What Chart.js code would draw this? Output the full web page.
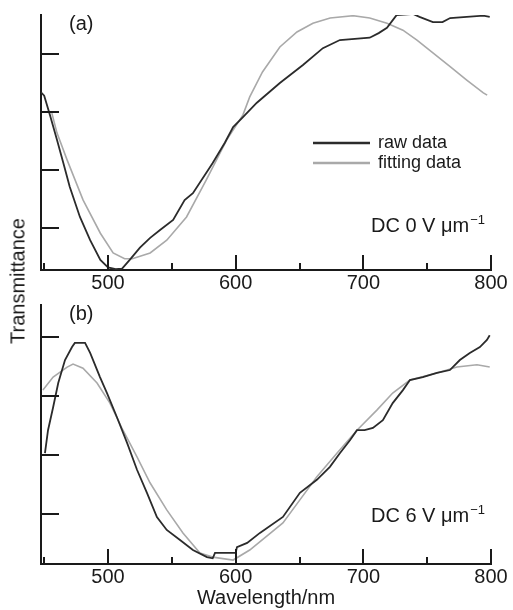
<!DOCTYPE html>
<html>
<head>
<meta charset="utf-8">
<script src="https://cdn.jsdelivr.net/npm/chart.js@4.4.0/dist/chart.umd.min.js"></script>
<style>
  body { margin: 0; background: #fff; }
  #wrap { position: relative; width: 513px; height: 610px; }
  #topChart { position: absolute; left: 0; top: 0; width: 513px; height: 296px; }
  #bottomChart { position: absolute; left: 0; top: 296px; width: 513px; height: 314px; }
  #ylab { position: absolute; left: 18px; top: 281px; transform: translate(-50%, -50%) rotate(-90deg);
          font: 20px "Liberation Sans", Arial, sans-serif; color: #1a1a1a; white-space: nowrap; }
</style>
</head>
<body>
<div id="wrap">
  <canvas id="topChart" width="513" height="296"></canvas>
  <canvas id="bottomChart" width="513" height="314"></canvas>
  <div id="ylab">Transmittance</div>
</div>
<script>
//DATA
// panel (a): DC 0 V/um
const rawAWave = [447.5, 450, 454.5, 460, 465, 470, 478, 486, 494, 500, 506, 511, 517, 525, 533, 541, 551, 560, 566.5,
    582, 591.5, 598, 605.7, 616.6, 634.6, 652.7, 668.3, 681.6, 705, 712, 718.5, 726, 739, 744, 754.5, 762, 768, 781, 794, 799];
const rawAVal = [3.34, 3.28, 2.95, 2.52, 2.12, 1.71, 1.19, 0.79, 0.45, 0.32, 0.29, 0.30, 0.45, 0.66, 0.83, 0.97, 1.14, 1.48, 1.60,
    2.12, 2.47, 2.74, 2.91, 3.16, 3.50, 3.81, 4.10, 4.24, 4.28, 4.36, 4.45, 4.67, 4.69, 4.64, 4.55, 4.55, 4.62, 4.64, 4.66, 4.64];
const fitAWave = [456, 460, 468, 480.5, 494, 504, 513, 519, 533, 546, 561.5, 577, 593, 605.7, 611, 621, 634.6, 648, 660.5,
    674, 692, 705, 718.5, 731, 742, 754.5, 768, 781, 794, 797];
const fitAVal = [2.98, 2.64, 2.17, 1.48, 0.91, 0.57, 0.47, 0.47, 0.57, 0.79, 1.19, 1.83, 2.52, 2.95, 3.26, 3.69, 4.12, 4.38, 4.53,
    4.62, 4.66, 4.62, 4.53, 4.41, 4.24, 4.02, 3.78, 3.55, 3.33, 3.29];

// panel (b): DC 6 V/um
const rawBWave = [450.6, 453, 457, 461, 466.3, 471.8, 474, 482, 486, 493.7, 499.2, 507, 515, 522.7, 530.5, 538.3, 546, 556.4,
    566.5, 577.5, 582, 583.8, 600, 601, 609, 619, 637, 650.3, 663.6, 673.8, 681.6, 689.5, 695, 701, 707.5, 715.3, 723, 731,
    736.5, 746.6, 757.6, 767.8, 775.6, 783.4, 791.3, 796.8, 799];
const rawBVal = [2.03, 2.42, 2.81, 3.22, 3.61, 3.83, 3.90, 3.90, 3.73, 3.32, 3.05, 2.64, 2.20, 1.75, 1.36, 0.95, 0.73, 0.56,
    0.39, 0.27, 0.25, 0.34, 0.34, 0.44, 0.51, 0.68, 0.95, 1.36, 1.58, 1.80, 2.03, 2.25, 2.42, 2.42, 2.46, 2.59, 2.88, 3.10,
    3.27, 3.32, 3.39, 3.44, 3.61, 3.73, 3.83, 3.95, 4.03];
const fitBWave = [449, 457, 468, 472.6, 480.4, 491.4, 501.5, 511.7, 522.7, 532.9, 546, 558.7, 572, 582, 598, 611, 637, 650.3,
    663.6, 679.3, 695, 710.6, 723, 736.5, 757.6, 773.3, 789, 799];
const fitBVal = [3.10, 3.32, 3.49, 3.54, 3.47, 3.22, 2.88, 2.42, 1.97, 1.53, 1.07, 0.68, 0.34, 0.27, 0.22, 0.39, 0.85, 1.24,
    1.63, 2.03, 2.42, 2.76, 3.05, 3.27, 3.39, 3.49, 3.53, 3.49];

const xTickLabels = [500, 600, 700, 800];
const xMinorTicks = [450, 550, 650, 750];
const yTicks = [1, 2, 3, 4];

//STYLE
const INK = '#1a1a1a';
const RAW = '#2b2b2b';
const FIT = '#a9a9a9';
const FONT = '"Liberation Sans", Arial, sans-serif';

const toPoints = (xs, ys) => xs.map((x, i) => ({x: x, y: ys[i]}));

// ticks drawn inward + panel texts + legend
const decor = {
    id: 'decor',
    afterDraw(chart, args, opts) {
        const {ctx, chartArea: a, scales: {x, y}} = chart;
        ctx.save();
        ctx.strokeStyle = INK;
        ctx.lineWidth = 2;
        ctx.beginPath();
        yTicks.forEach(v => {
            const py = Math.round(y.getPixelForValue(v));
            ctx.moveTo(a.left, py);
            ctx.lineTo(a.left + 18, py);
        });
        xTickLabels.forEach(v => {
            const px = Math.round(x.getPixelForValue(v));
            ctx.moveTo(px, a.bottom);
            ctx.lineTo(px, a.bottom - 15);
        });
        xMinorTicks.forEach(v => {
            const px = Math.round(x.getPixelForValue(v));
            ctx.moveTo(px, a.bottom);
            ctx.lineTo(px, a.bottom - 7);
        });
        ctx.stroke();

        ctx.fillStyle = INK;
        ctx.textBaseline = 'middle';
        ctx.font = '20px ' + FONT;
        ctx.textAlign = 'left';
        ctx.fillText(opts.panel, a.left + 28, a.top + 9);

        // "DC n V um^-1", right aligned
        ctx.font = '13px ' + FONT;
        const supW = ctx.measureText('\u22121').width;
        ctx.textAlign = 'right';
        ctx.fillText('\u22121', a.right - 6, opts.dcY - 6);
        ctx.font = '20px ' + FONT;
        ctx.fillText(opts.dc, a.right - 7 - supW, opts.dcY);

        if (opts.legend) {
            ctx.lineWidth = 2.5;
            ctx.strokeStyle = RAW;
            ctx.beginPath();
            ctx.moveTo(313, 143); ctx.lineTo(370, 143);
            ctx.stroke();
            ctx.strokeStyle = FIT;
            ctx.beginPath();
            ctx.moveTo(313, 163); ctx.lineTo(370, 163);
            ctx.stroke();
            ctx.font = '18px ' + FONT;
            ctx.textAlign = 'left';
            ctx.fillText('raw data', 378, 143);
            ctx.fillText('fitting data', 378, 163);
        }
        ctx.restore();
    }
};

function makeConfig(raw, fit, yMin, yMax, pad, xHeight, decorOpts, title) {
    return {
        type: 'line',
        data: {
            datasets: [
                {label: 'raw data', data: raw, borderColor: RAW, borderWidth: 1.8, pointRadius: 0, tension: 0},
                {label: 'fitting data', data: fit, borderColor: FIT, borderWidth: 1.6, pointRadius: 0, tension: 0}
            ]
        },
        options: {
            responsive: false,
            animation: false,
            devicePixelRatio: 1,
            layout: {padding: pad},
            plugins: {
                legend: {display: false},
                tooltip: {enabled: false},
                decor: decorOpts
            },
            scales: {
                x: {
                    type: 'linear',
                    min: 447.5,
                    max: 800,
                    grid: {display: false, drawTicks: false},
                    border: {display: true, color: INK, width: 2},
                    ticks: {
                        color: INK,
                        font: {family: FONT, size: 20},
                        padding: 1,
                        autoSkip: false,
                        maxRotation: 0,
                        callback: v => String(v)
                    },
                    title: title ? {display: true, text: title, color: INK,
                        font: {family: FONT, size: 20}, padding: 0} : {display: false},
                    afterBuildTicks: s => { s.ticks = xTickLabels.map(v => ({value: v})); },
                    afterFit: s => { s.height = xHeight; }
                },
                y: {
                    min: yMin,
                    max: yMax,
                    grid: {display: false, drawTicks: false},
                    border: {display: true, color: INK, width: 2},
                    ticks: {display: false},
                    afterFit: s => { s.width = 0; }
                }
            }
        },
        plugins: [decor]
    };
}

//RENDER
const topChart = new Chart(
    document.getElementById('topChart'),
    makeConfig(toPoints(rawAWave, rawAVal), toPoints(fitAWave, fitAVal), 0.276, 4.672,
        {left: 41, right: 22, top: 15, bottom: 0}, 26,
        {panel: '(a)', dc: 'DC 0 V \u03bcm', dcY: 226, legend: true}, null)
);

const bottomChart = new Chart(
    document.getElementById('bottomChart'),
    makeConfig(toPoints(rawBWave, rawBVal), toPoints(fitBWave, fitBVal), 0.153, 4.542,
        {left: 41, right: 22, top: 9, bottom: 0}, 46,
        {panel: '(b)', dc: 'DC 6 V \u03bcm', dcY: 220, legend: false}, 'Wavelength/nm')
);
</script>
</body>
</html>
